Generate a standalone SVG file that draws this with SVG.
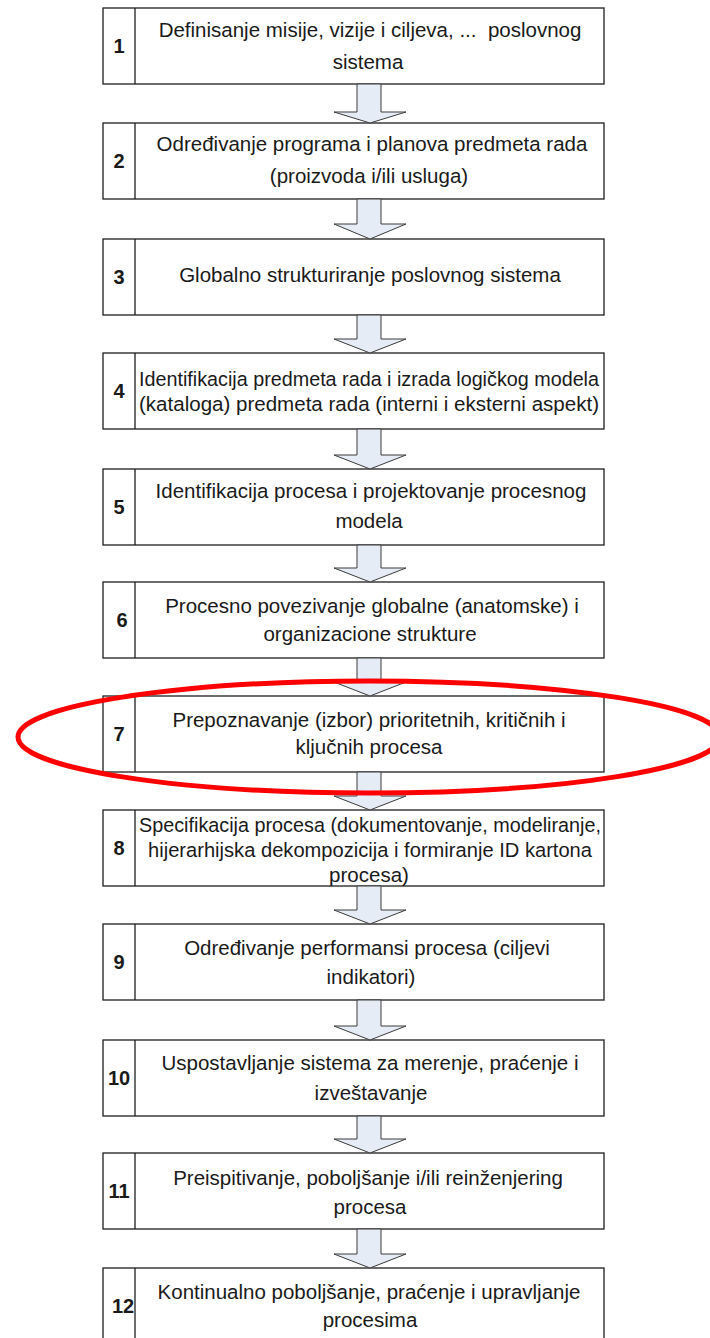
<svg xmlns="http://www.w3.org/2000/svg" width="710" height="1338" viewBox="0 0 710 1338">
<defs>
<style>
.box{fill:#ffffff;stroke:#1e1e1e;stroke-width:1.3}
.div{stroke:#1e1e1e;stroke-width:1.3}
.num{font-family:"Liberation Sans",Arial,sans-serif;font-size:20px;font-weight:bold;fill:#1a1a1a;text-anchor:middle}
.txt{font-family:"Liberation Sans",Arial,sans-serif;font-size:20.5px;fill:#1a1a1a;text-anchor:middle}
.arr{fill:#e6ecf6;stroke:#3a3a3a;stroke-width:1}
.hl{fill:none;stroke:#ff0000;stroke-width:5}
</style>
<clipPath id="cell12"><rect x="103" y="1268" width="31" height="76"/></clipPath>
</defs>
<rect width="710" height="1338" fill="#ffffff"/>

<g id="step1">
<rect class="box" x="103" y="8" width="501" height="76"/>
<line class="div" x1="135" y1="8" x2="135" y2="84"/>
<text class="num" x="119" y="53">1</text>
<text class="txt" x="370" y="37" xml:space="preserve">Definisanje misije, vizije i ciljeva, ...  poslovnog</text>
<text class="txt" x="368" y="69">sistema</text>
</g>

<g id="step2">
<rect class="box" x="103" y="123" width="501" height="76"/>
<line class="div" x1="135" y1="123" x2="135" y2="199"/>
<text class="num" x="119" y="168">2</text>
<text class="txt" x="372" y="151">Određivanje programa i planova predmeta rada</text>
<text class="txt" x="369" y="183">(proizvoda i/ili usluga)</text>
</g>

<g id="step3">
<rect class="box" x="103" y="239" width="501" height="76"/>
<line class="div" x1="135" y1="239" x2="135" y2="315"/>
<text class="num" x="119" y="284">3</text>
<text class="txt" x="370" y="282">Globalno strukturiranje poslovnog sistema</text>
</g>

<g id="step4">
<rect class="box" x="103" y="353" width="501" height="76"/>
<line class="div" x1="135" y1="353" x2="135" y2="429"/>
<text class="num" x="119" y="398">4</text>
<text class="txt" x="369" y="386" textLength="460" lengthAdjust="spacingAndGlyphs">Identifikacija predmeta rada i izrada logičkog modela</text>
<text class="txt" x="369" y="411" textLength="460" lengthAdjust="spacingAndGlyphs">(kataloga) predmeta rada (interni i eksterni aspekt)</text>
</g>

<g id="step5">
<rect class="box" x="103" y="469" width="501" height="76"/>
<line class="div" x1="135" y1="469" x2="135" y2="545"/>
<text class="num" x="119" y="514">5</text>
<text class="txt" x="371" y="498">Identifikacija procesa i projektovanje procesnog</text>
<text class="txt" x="369" y="528">modela</text>
</g>

<g id="step6">
<rect class="box" x="103" y="582" width="501" height="76"/>
<line class="div" x1="135" y1="582" x2="135" y2="658"/>
<text class="num" x="122" y="627">6</text>
<text class="txt" x="372" y="613">Procesno povezivanje globalne (anatomske) i</text>
<text class="txt" x="370" y="641">organizacione strukture</text>
</g>

<g id="step7">
<rect class="box" x="103" y="696" width="501" height="76"/>
<line class="div" x1="135" y1="696" x2="135" y2="772"/>
<text class="num" x="119" y="741">7</text>
<text class="txt" x="369" y="727">Prepoznavanje (izbor) prioritetnih, kritičnih i</text>
<text class="txt" x="369" y="754">ključnih procesa</text>
</g>

<g id="step8">
<rect class="box" x="103" y="810" width="501" height="76"/>
<line class="div" x1="135" y1="810" x2="135" y2="886"/>
<text class="num" x="119" y="855">8</text>
<text class="txt" x="370" y="832" textLength="462" lengthAdjust="spacingAndGlyphs">Specifikacija procesa (dokumentovanje, modeliranje,</text>
<text class="txt" x="370" y="857" textLength="444" lengthAdjust="spacingAndGlyphs">hijerarhijska dekompozicija i formiranje ID kartona</text>
<text class="txt" x="369" y="882">procesa)</text>
</g>

<g id="step9">
<rect class="box" x="103" y="924" width="501" height="76"/>
<line class="div" x1="135" y1="924" x2="135" y2="1000"/>
<text class="num" x="119" y="969">9</text>
<text class="txt" x="367" y="955">Određivanje performansi procesa (ciljevi</text>
<text class="txt" x="371" y="984">indikatori)</text>
</g>

<g id="step10">
<rect class="box" x="103" y="1040" width="501" height="76"/>
<line class="div" x1="135" y1="1040" x2="135" y2="1116"/>
<text class="num" x="119" y="1085">10</text>
<text class="txt" x="370" y="1070">Uspostavljanje sistema za merenje, praćenje i</text>
<text class="txt" x="371" y="1100">izveštavanje</text>
</g>

<g id="step11">
<rect class="box" x="103" y="1153" width="501" height="76"/>
<line class="div" x1="135" y1="1153" x2="135" y2="1229"/>
<text class="num" x="119" y="1198">11</text>
<text class="txt" x="368" y="1185">Preispitivanje, poboljšanje i/ili reinženjering</text>
<text class="txt" x="370" y="1214">procesa</text>
</g>

<g id="step12">
<rect class="box" x="103" y="1268" width="501" height="80"/>
<text class="num" x="123" y="1313" clip-path="url(#cell12)">12</text>
<line class="div" x1="135" y1="1268" x2="135" y2="1348"/>
<text class="txt" x="369" y="1299">Kontinualno poboljšanje, praćenje i upravljanje</text>
<text class="txt" x="370" y="1327">procesima</text>
</g>

<g id="connectors">
<polygon class="arr" points="357,84 381,84 381,112 406,112 370,123 334,112 357,112"/>
<polygon class="arr" points="357,199 381,199 381,224 406,224 370,239 334,224 357,224"/>
<polygon class="arr" points="357,315 381,315 381,339 406,339 370,353 334,339 357,339"/>
<polygon class="arr" points="357,429 381,429 381,455 406,455 370,469 334,455 357,455"/>
<polygon class="arr" points="357,545 381,545 381,568 406,568 370,582 334,568 357,568"/>
<polygon class="arr" points="357,658 381,658 381,682 406,682 370,696 334,682 357,682"/>
<polygon class="arr" points="357,772 381,772 381,796 406,796 370,810 334,796 357,796"/>
<polygon class="arr" points="357,886 381,886 381,910 406,910 370,924 334,910 357,910"/>
<polygon class="arr" points="357,1000 381,1000 381,1026 406,1026 370,1040 334,1026 357,1026"/>
<polygon class="arr" points="357,1116 381,1116 381,1139 406,1139 370,1153 334,1139 357,1139"/>
<polygon class="arr" points="357,1229 381,1229 381,1254 406,1254 370,1268 334,1254 357,1254"/>
</g>

<g id="highlight">
<ellipse class="hl" cx="369" cy="737" rx="351" ry="56"/>
</g>
</svg>
